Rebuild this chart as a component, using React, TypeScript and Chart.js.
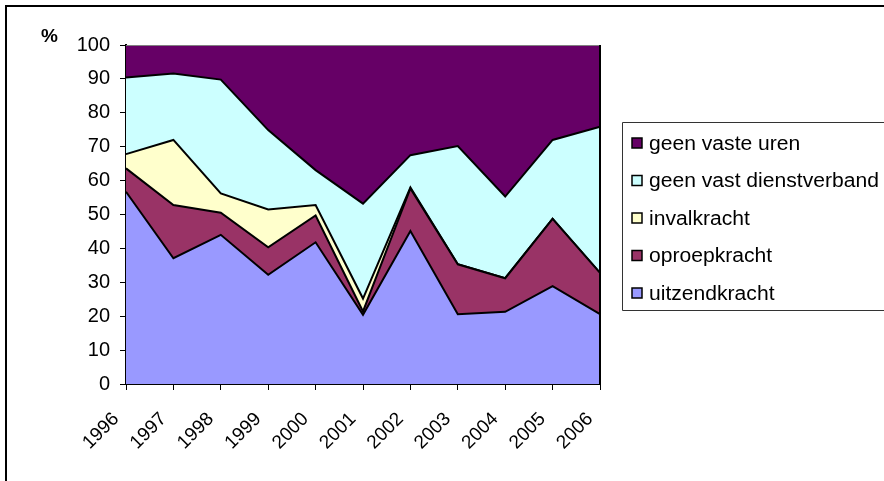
import React, { useEffect, useRef } from "react";
import { Chart, registerables } from "chart.js";

Chart.register(...registerables);

const years = ["1996", "1997", "1998", "1999", "2000", "2001", "2002", "2003", "2004", "2005", "2006"];
const uitzendkracht = [56.7, 37.1, 44.0, 32.2, 41.8, 20.4, 45.1, 20.6, 21.3, 28.9, 20.6];
const oproepkracht = [6.9, 15.7, 6.5, 8.1, 7.9, 1.0, 12.6, 14.7, 9.9, 19.8, 12.2];
const invalkracht = [4.2, 19.2, 5.7, 11.2, 3.1, 3.8, 0.3, 0, 0, 0, 0];
const geenVastDienstverband = [22.6, 19.6, 33.6, 23.4, 10.3, 28.0, 9.5, 34.9, 24.1, 23.3, 43.1];
const geenVasteUren = [9.6, 8.4, 10.2, 25.1, 36.9, 46.7, 32.5, 29.8, 44.7, 28.0, 24.1];
const yTicks = [0, 10, 20, 30, 40, 50, 60, 70, 80, 90, 100];

const FONT = "'Liberation Sans', Arial, sans-serif";

const seriesDefs = [
  { label: "uitzendkracht", data: uitzendkracht, color: "#9999FF" },
  { label: "oproepkracht", data: oproepkracht, color: "#993366" },
  { label: "invalkracht", data: invalkracht, color: "#FFFFCC" },
  { label: "geen vast dienstverband", data: geenVastDienstverband, color: "#CCFFFF" },
  { label: "geen vaste uren", data: geenVasteUren, color: "#660066" },
];

const decorPlugin = {
  id: "decor",
  afterDatasetsDraw(chart: any) {
    const ctx = chart.ctx;
    const a = chart.chartArea;
    ctx.save();
    ctx.strokeStyle = "#808080";
    ctx.lineWidth = 1;
    ctx.beginPath();
    ctx.moveTo(a.left, a.top + 0.5);
    ctx.lineTo(a.right, a.top + 0.5);
    ctx.stroke();
    ctx.strokeStyle = "#000";
    ctx.lineWidth = 2;
    ctx.beginPath();
    ctx.moveTo(a.right, a.top);
    ctx.lineTo(a.right, a.bottom);
    ctx.stroke();
    ctx.restore();
  },
  afterDraw(chart: any) {
    const ctx = chart.ctx;
    const a = chart.chartArea;
    const W = chart.width;
    const H = chart.height;
    ctx.save();
    // outer frame (top and left edges visible only)
    ctx.strokeStyle = "#000";
    ctx.lineWidth = 2;
    ctx.beginPath();
    ctx.moveTo(W + 10, 6);
    ctx.lineTo(6, 6);
    ctx.lineTo(6, H + 10);
    ctx.stroke();
    // % label
    ctx.fillStyle = "#000";
    ctx.font = "bold 19px " + FONT;
    ctx.textAlign = "left";
    ctx.textBaseline = "middle";
    ctx.fillText("%", a.left - 85, a.top - 8);
    // legend box (runs off the right edge)
    const lx = 622.5, ly = 122.5, lb = 310.5;
    ctx.strokeStyle = "#333";
    ctx.lineWidth = 1;
    ctx.beginPath();
    ctx.moveTo(W + 10, ly);
    ctx.lineTo(lx, ly);
    ctx.lineTo(lx, lb);
    ctx.lineTo(W + 10, lb);
    ctx.stroke();
    ctx.font = "20px " + FONT;
    const items = [...seriesDefs].reverse();
    items.forEach((s, i) => {
      const cy = 143 + i * 37.5;
      ctx.fillStyle = s.color;
      ctx.fillRect(632, cy - 5, 10, 10);
      ctx.strokeStyle = "#000";
      ctx.lineWidth = 1.5;
      ctx.strokeRect(632, cy - 5, 10, 10);
      ctx.fillStyle = "#000";
      ctx.textBaseline = "middle";
      ctx.save();
      ctx.translate(649, cy + 1);
      ctx.scale(1.055, 1);
      ctx.fillText(s.label, 0, 0);
      ctx.restore();
    });
    ctx.restore();
  },
};

export default function App() {
  const ref = useRef<HTMLCanvasElement>(null);
  useEffect(() => {
    document.body.style.margin = "0";
    const canvas = ref.current!;
    const chart = new Chart(canvas, {
      type: "line",
      data: {
        labels: years,
        datasets: seriesDefs.map((s, i) => ({
          label: s.label,
          data: s.data,
          backgroundColor: s.color,
          borderColor: i === seriesDefs.length - 1 ? "#808080" : "#000",
          borderWidth: i === seriesDefs.length - 1 ? 1 : 2,
          fill: i === 0 ? "origin" : "-1",
          pointRadius: 0,
          tension: 0,
        })),
      },
      options: {
        responsive: false,
        animation: false,
        events: [],
        layout: { padding: { left: 0, top: 45, right: 284, bottom: 0 } },
        plugins: { legend: { display: false }, tooltip: { enabled: false } },
        scales: {
          x: {
            offset: false,
            grid: { drawOnChartArea: false, drawTicks: true, tickLength: 6, color: "#000" },
            border: { color: "#000", width: 2 },
            ticks: {
              color: "#000",
              font: { family: FONT, size: 19 },
              minRotation: 45,
              maxRotation: 45,
              autoSkip: false,
              padding: 18,
              labelOffset: -10,
            },
            afterFit(scale: any) {
              scale.height = 97;
              scale.paddingLeft = 0;
              scale.paddingRight = 0;
            },
          },
          y: {
            stacked: true,
            min: 0,
            max: 100,
            afterBuildTicks(scale: any) {
              scale.ticks = yTicks.map((v) => ({ value: v }));
            },
            grid: { drawOnChartArea: false, drawTicks: true, tickLength: 6, color: "#000" },
            border: { color: "#000", width: 2 },
            ticks: {
              color: "#000",
              font: { family: FONT, size: 20 },
              padding: 10,
            },
            afterFit(scale: any) {
              scale.width = 126;
              scale.paddingTop = 0;
              scale.paddingBottom = 0;
            },
          },
        },
      },
      plugins: [decorPlugin],
    });
    return () => chart.destroy();
  }, []);
  return <canvas ref={ref} width={884} height={481} style={{ display: "block", width: 884, height: 481 }} />;
}
